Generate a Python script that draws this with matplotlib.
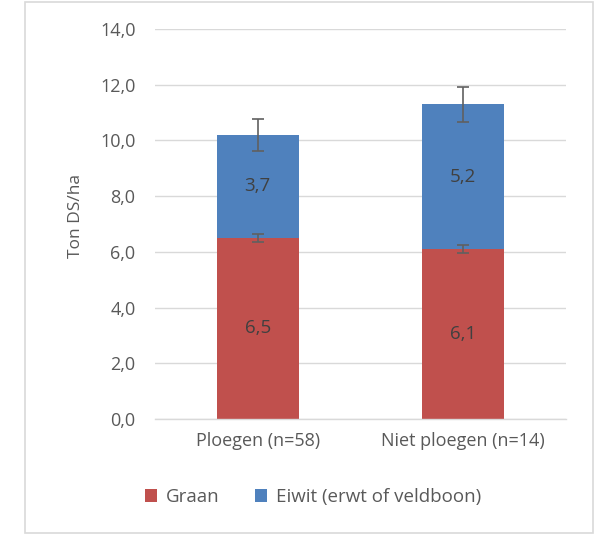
import matplotlib
matplotlib.use("Agg")
import matplotlib.pyplot as plt
from matplotlib.patches import Rectangle

categories = ["Ploegen (n=58)", "Niet ploegen (n=14)"]
graan = [6.5, 6.1]
eiwit = [3.7, 5.2]
graan_err = [0.15, 0.15]
totaal_err = [0.57, 0.63]
yticks = [0, 2, 4, 6, 8, 10, 12, 14]

plt.rcParams['font.family'] = ['Open Sans', 'DejaVu Sans']
txt = '#595959'
red = '#C0504D'
blue = '#4F81BD'

fig = plt.figure(figsize=(5.95, 5.35), dpi=100)
fig.patches.append(Rectangle((25/595, 1-533/535), (593-25)/595, (533-2)/535,
                             transform=fig.transFigure, fill=False,
                             edgecolor='#D9D9D9', linewidth=1.2))
ax = fig.add_axes([155/595, 1-419/535, (566-155)/595, (419-29)/535])

x = list(range(len(categories)))
w = 0.4
ax.bar(x, graan, width=w, color=red, label='Graan', zorder=2)
tot = [g + e for g, e in zip(graan, eiwit)]
ax.bar(x, eiwit, width=w, bottom=graan, color=blue, label='Eiwit (erwt of veldboon)', zorder=2)
ax.errorbar(x, graan, yerr=graan_err, fmt='none', ecolor='#606060', elinewidth=1.2,
            capsize=4.5, capthick=1.2, zorder=3)
ax.errorbar(x, tot, yerr=totaal_err, fmt='none', ecolor='#606060', elinewidth=1.2,
            capsize=4.5, capthick=1.2, zorder=3)

for i in x:
    ax.text(i, graan[i] / 2, f"{graan[i]:.1f}".replace('.', ','), ha='center', va='center',
            fontsize=13.5, color='#404040', zorder=4)
    ax.text(i, graan[i] + eiwit[i] / 2, f"{eiwit[i]:.1f}".replace('.', ','), ha='center',
            va='center', fontsize=13.5, color='#404040', zorder=4)

ax.set_xlim(-0.5, 1.5)
ax.set_ylim(0, 14)
ax.set_yticks(yticks)
ax.set_yticklabels([f"{v:.1f}".replace('.', ',') for v in yticks])
ax.set_xticks(x)
ax.set_xticklabels(categories)
ax.tick_params(axis='both', length=0, labelsize=13, colors=txt)
ax.tick_params(axis='y', pad=14)
ax.tick_params(axis='x', pad=9)
ax.yaxis.grid(True, color='#D9D9D9', linewidth=1, zorder=0)
ax.set_axisbelow(True)
for s in ['top', 'right', 'left']:
    ax.spines[s].set_visible(False)
ax.spines['bottom'].set_color('#D9D9D9')
ax.spines['bottom'].set_linewidth(1)
ax.set_ylabel('Ton DS/ha', fontsize=12.5, color=txt)
ax.yaxis.set_label_coords(-0.173, 0.52)

leg = fig.legend(loc='center', bbox_to_anchor=(313/595, 1-497/535), ncol=2, frameon=False,
                 fontsize=13.5, handlelength=0.65, handleheight=0.65, columnspacing=1.9,
                 handletextpad=0.45)
for t in leg.get_texts():
    t.set_color(txt)

fig.savefig('out.png', dpi=100)
